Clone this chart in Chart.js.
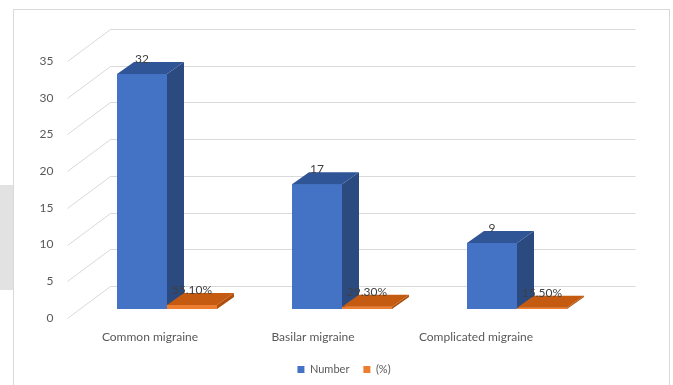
<!DOCTYPE html>
<html lang="en">
<head>
<meta charset="UTF-8">
<title>Migraine types</title>
<style>
  body { margin: 0; background: #fff; }
  .wrap { position: relative; width: 673px; height: 385px; overflow: hidden; }
  .strip { position: absolute; left: 0; top: 185px; width: 13px; height: 105px; background: #e2e2e2; }
  .frame { position: absolute; left: 13px; top: 9px; width: 655px; height: 400px; border: 1px solid #d9d9d9; }
  canvas { position: absolute; left: 0; top: 0; }
</style>
</head>
<body>
<div class="wrap">
  <div class="strip"></div>
  <div class="frame"></div>
  <canvas id="chart" width="673" height="385"></canvas>
</div>
<script src="https://cdn.jsdelivr.net/npm/chart.js"></script>
<script>
const categories = ['Common migraine', 'Basilar migraine', 'Complicated migraine'];
const numbers = [32, 17, 9];
const percents = [0.551, 0.293, 0.155];
const yMax = 35;
const yStep = 5;

// fake 3D: depth of the bars and of the back wall
const BAR_DX = 17, BAR_DY = -12;
const FRONT_DX = -12, FRONT_DY = 9;
const BACK_DX = 31, BACK_DY = -23;
const LABEL_SHIFT = [-17, -29, -41];
const LEGEND_SHIFT = 32;

const faces = [
  { front: '#4472C4', side: '#2B4A80', top: '#2F5597' },
  { front: '#ED7D31', side: '#AE4F0E', top: '#C55A11' }
];

const fontFamily = 'Lato, "Open Sans", sans-serif';

const threeD = {
  id: 'threeD',
  afterLayout(chart) {
    // legend sits centred under the whole plot, not just the chart area
    chart.legend.left += LEGEND_SHIFT;
    chart.legend.right += LEGEND_SHIFT;
  },
  beforeDatasetsDraw(chart) {
    const ctx = chart.ctx, y = chart.scales.y, a = chart.chartArea;
    ctx.save();
    ctx.strokeStyle = '#d9d9d9';
    ctx.lineWidth = 1;
    for (let v = 0; v <= yMax; v += yStep) {
      const py = Math.round(y.getPixelForValue(v)) + 0.5;
      ctx.beginPath();
      ctx.moveTo(a.left + FRONT_DX, py + FRONT_DY);
      ctx.lineTo(a.left + BACK_DX, py + BACK_DY);
      ctx.lineTo(a.right + BACK_DX, py + BACK_DY);
      ctx.stroke();
    }
    ctx.restore();
  },
  afterDatasetsDraw(chart) {
    const ctx = chart.ctx;
    ctx.save();
    for (let i = 0; i < categories.length; i++) {
      chart.data.datasets.forEach((ds, d) => {
        const el = chart.getDatasetMeta(d).data[i];
        const l = el.x - el.width / 2, r = el.x + el.width / 2;
        const t = el.y, b = el.base;
        const c = faces[d];
        ctx.fillStyle = c.front;
        ctx.fillRect(l, t, r - l, b - t);
        ctx.fillStyle = c.side;
        ctx.beginPath();
        ctx.moveTo(r, t);
        ctx.lineTo(r + BAR_DX, t + BAR_DY);
        ctx.lineTo(r + BAR_DX, b + BAR_DY);
        ctx.lineTo(r, b);
        ctx.closePath();
        ctx.fill();
        ctx.fillStyle = c.top;
        ctx.beginPath();
        ctx.moveTo(l, t);
        ctx.lineTo(l + BAR_DX, t + BAR_DY);
        ctx.lineTo(r + BAR_DX, t + BAR_DY);
        ctx.lineTo(r, t);
        ctx.closePath();
        ctx.fill();
      });
    }

    // value labels
    ctx.font = '12px ' + fontFamily;
    ctx.fillStyle = '#404040';
    ctx.textAlign = 'center';
    ctx.textBaseline = 'middle';
    chart.data.datasets.forEach((ds, d) => {
      chart.getDatasetMeta(d).data.forEach((el, i) => {
        const v = ds.data[i];
        const txt = d === 0 ? String(v) : (v * 100).toFixed(2) + '%';
        ctx.fillText(txt, el.x, el.y - 15);
      });
    });

    // category labels along the floor
    const x = chart.scales.x;
    ctx.fillStyle = '#595959';
    categories.forEach((c, i) => {
      ctx.fillText(c, x.getPixelForValue(i) + LABEL_SHIFT[i], 337);
    });
    ctx.restore();
  }
};

new Chart(document.getElementById('chart'), {
  type: 'bar',
  data: {
    labels: categories,
    datasets: [
      { label: 'Number', data: numbers, backgroundColor: faces[0].front },
      { label: '(%)', data: percents, backgroundColor: faces[1].front }
    ]
  },
  options: {
    responsive: false,
    animation: false,
    categoryPercentage: 100 / 175,
    barPercentage: 1,
    layout: { padding: { left: 19.5, right: 68.5, top: 52, bottom: 0 } },
    scales: {
      x: {
        grid: { display: false },
        border: { display: false },
        ticks: { display: false },
        afterFit(s) { s.height = 41; }
      },
      y: {
        min: 0,
        max: yMax,
        ticks: { stepSize: yStep, padding: 26, labelOffset: 9, color: '#595959', font: { family: fontFamily, size: 12 } },
        grid: { display: false, drawTicks: false },
        border: { display: false },
        afterFit(s) { s.width = 60; }
      }
    },
    plugins: {
      legend: {
        position: 'bottom',
        labels: { boxWidth: 7, boxHeight: 7, padding: 14, color: '#595959', font: { family: fontFamily, size: 11 } }
      },
      tooltip: { enabled: false }
    }
  },
  plugins: [threeD]
});
</script>
</body>
</html>
